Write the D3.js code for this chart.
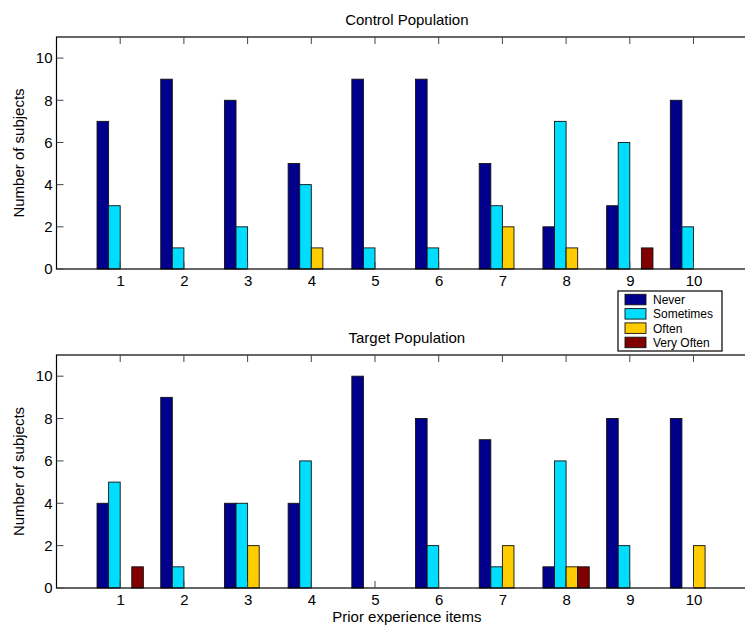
<!DOCTYPE html>
<html><head><meta charset="utf-8">
<script src="https://cdn.jsdelivr.net/npm/d3@7"></script>
<style>body{margin:0;background:#fff}svg{display:block;font-family:"Liberation Sans",Arial,sans-serif}</style>
</head><body>
<script>
const items = [1,2,3,4,5,6,7,8,9,10];
const seriesNames = ["Never","Sometimes","Often","Very Often"];
const colors = ["#00008c","#00ddff","#ffcc00","#800000"];
const yTicks = [0,2,4,6,8,10];
// control population
const controlNever     = [7,9,8,5,9,9,5,2,3,8];
const controlSometimes = [3,1,2,4,1,1,3,7,6,2];
const controlOften     = [0,0,0,1,0,0,2,1,0,0];
const controlVeryOften = [0,0,0,0,0,0,0,0,1,0];
// target population
const targetNever     = [4,9,4,4,10,8,7,1,8,8];
const targetSometimes = [5,1,4,6,0,2,1,6,2,0];
const targetOften     = [0,0,2,0,0,0,2,1,0,2];
const targetVeryOften = [1,0,0,0,0,0,0,1,0,0];

const W=745,H=629;
const svg=d3.select("body").append("svg").attr("width",W).attr("height",H);
const x=d3.scaleLinear().domain([0,11]).range([56.5,757.2]);
const groupW=4/5.5, barW=groupW/4;

function panel(top,bottom,title,series,showXLabel){
  const y=d3.scaleLinear().domain([0,11]).range([bottom,top]);
  const g=svg.append("g");
  g.append("text").attr("x",(x(0)+x(11))/2).attr("y",top-12).attr("text-anchor","middle")
    .attr("font-size",15).text(title);
  series.forEach((vals,si)=>{
    g.selectAll(null).data(items).enter().append("rect")
      .attr("x",(d,i)=>x(d-groupW/2+si*barW))
      .attr("width",x(barW)-x(0))
      .attr("y",(d,i)=>y(vals[i]))
      .attr("height",(d,i)=>y(0)-y(vals[i]))
      .attr("fill",colors[si]).attr("stroke","#111").attr("stroke-width",0.9);
  });
  g.append("rect").attr("x",x(0)).attr("y",top).attr("width",x(11)-x(0)).attr("height",bottom-top)
    .attr("fill","none").attr("stroke","#000").attr("stroke-width",1.2);
  items.forEach(t=>{
    g.append("line").attr("x1",x(t)).attr("x2",x(t)).attr("y1",top).attr("y2",top+7).attr("stroke","#444");
    g.append("line").attr("x1",x(t)).attr("x2",x(t)).attr("y1",bottom).attr("y2",bottom-7).attr("stroke","#444");
  });
  const xa=g.append("g").attr("transform",`translate(0,${bottom})`)
    .call(d3.axisBottom(x).tickValues(items).tickSize(0).tickPadding(6));
  xa.select(".domain").remove();
  xa.selectAll("text").attr("font-size",15).attr("fill","#000").attr("font-family","Liberation Sans, Arial, sans-serif");
  yTicks.forEach(t=>{
    g.append("line").attr("x1",x(0)).attr("x2",x(0)+7).attr("y1",y(t)).attr("y2",y(t)).attr("stroke","#444");
  });
  const ya=g.append("g").attr("transform",`translate(${x(0)},0)`)
    .call(d3.axisLeft(y).tickValues(yTicks).tickSize(0).tickPadding(4));
  ya.select(".domain").remove();
  ya.selectAll("text").attr("font-size",15).attr("fill","#000").attr("font-family","Liberation Sans, Arial, sans-serif");
  g.append("text").attr("transform",`translate(24,${(top+bottom)/2}) rotate(-90)`)
    .attr("text-anchor","middle").attr("font-size",15).text("Number of subjects");
  if(showXLabel){
    g.append("text").attr("x",(x(0)+x(11))/2).attr("y",bottom+34).attr("text-anchor","middle")
      .attr("font-size",15).text("Prior experience items");
  }
}
panel(37,269,"Control Population",[controlNever,controlSometimes,controlOften,controlVeryOften],false);
panel(355,588,"Target Population",[targetNever,targetSometimes,targetOften,targetVeryOften],true);

const lg=svg.append("g");
lg.append("rect").attr("x",618).attr("y",291).attr("width",104).attr("height",60)
  .attr("fill","#fff").attr("stroke","#000").attr("stroke-width",1.2);
seriesNames.forEach((n,i)=>{
  const yy=294.3+i*14.3;
  lg.append("rect").attr("x",625).attr("y",yy).attr("width",21).attr("height",10.5)
    .attr("fill",colors[i]).attr("stroke","#111").attr("stroke-width",0.9);
  lg.append("text").attr("x",653).attr("y",yy+9.8).attr("font-size",12).text(n);
});
</script>
</body></html>
